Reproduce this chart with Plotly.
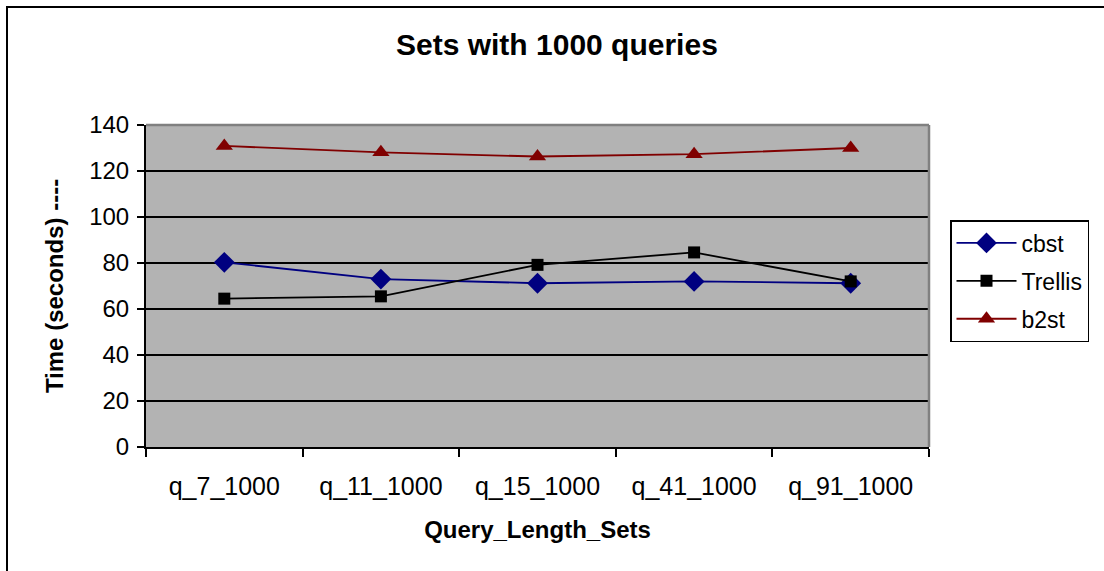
import plotly.graph_objects as go

# Query sets and measured run times (seconds)
categories = ["q_7_1000", "q_11_1000", "q_15_1000", "q_41_1000", "q_91_1000"]
cbst = [80.3, 73.0, 71.2, 72.0, 71.2]
trellis = [64.5, 65.5, 79.2, 84.6, 72.0]
b2st = [130.9, 128.1, 126.3, 127.3, 130.0]

W, H = 1104, 571
L, R, T, B = 146, 175, 125, 124
FONT = "Liberation Sans, Arial, sans-serif"

fig = go.Figure()
fig.add_trace(go.Scatter(
    x=categories, y=cbst, name="cbst", legendgroup="cbst", mode="lines+markers",
    line=dict(color="#000080", width=1.8),
    marker=dict(symbol="diamond", size=16, color="#000080"),
))
fig.add_trace(go.Scatter(
    x=categories, y=trellis, name="Trellis", legendgroup="trellis", mode="lines+markers",
    line=dict(color="#000000", width=1.8),
    marker=dict(symbol="square", size=12, color="#000000"),
))
fig.add_trace(go.Scatter(
    x=categories, y=b2st, name="b2st", legendgroup="b2st", mode="lines+markers",
    line=dict(color="#800000", width=1.8),
    marker=dict(symbol="triangle-up", size=15, color="#800000"),
))


def px_x(px):
    return (px - L) / (W - L - R)


def px_y(py):
    return (H - B - py) / (H - T - B)


fig.update_layout(
    width=W, height=H,
    margin=dict(l=L, r=R, t=T, b=B, autoexpand=False),
    paper_bgcolor="white",
    plot_bgcolor="#b3b3b3",
    font=dict(family=FONT, size=24, color="black"),
    showlegend=True,
    legend=dict(
        x=px_x(950), y=px_y(220), xanchor="left", yanchor="top",
        bgcolor="white", bordercolor="black", borderwidth=1.5,
        font=dict(size=23), itemwidth=60, tracegroupgap=5,
    ),
    xaxis=dict(
        type="category",
        range=[-0.5, len(categories) - 0.5],
        tickson="boundaries",
        ticks="outside", ticklen=8, tickwidth=1.5, tickcolor="black",
        showline=True, linecolor="black", linewidth=2,
        showgrid=False, zeroline=False,
        tickfont=dict(size=25), ticklabelstandoff=16,
        title=dict(text="<b>Query_Length_Sets</b>", font=dict(size=24), standoff=22),
    ),
    yaxis=dict(
        range=[0, 140], dtick=20, tick0=0,
        ticks="outside", ticklen=7, tickwidth=1.5, tickcolor="black",
        showline=True, linecolor="black", linewidth=2,
        showgrid=True, gridcolor="black", gridwidth=1.8,
        zeroline=False,
        tickfont=dict(size=24), ticklabelstandoff=3,
        title=dict(text="<b>Time (seconds) ----</b>", font=dict(size=24), standoff=19),
    ),
    annotations=[
        dict(
            text="<b>Sets with 1000 queries</b>",
            x=px_x(557), y=px_y(44), xref="paper", yref="paper",
            xanchor="center", yanchor="middle", showarrow=False,
            font=dict(size=30, family=FONT),
        )
    ],
    shapes=[
        # outer chart frame
        dict(type="rect", xref="paper", yref="paper",
             x0=px_x(7), y0=px_y(H + 10), x1=px_x(W + 10), y1=px_y(7),
             line=dict(color="black", width=2), layer="below"),
        # top and right edges of the plot area
        dict(type="line", xref="paper", yref="paper", x0=0, y0=1, x1=1, y1=1,
             line=dict(color="#808080", width=2.5)),
        dict(type="line", xref="paper", yref="paper", x0=1, y0=0, x1=1, y1=1,
             line=dict(color="#808080", width=2.5)),
    ],
)

fig.write_html("out.html")
